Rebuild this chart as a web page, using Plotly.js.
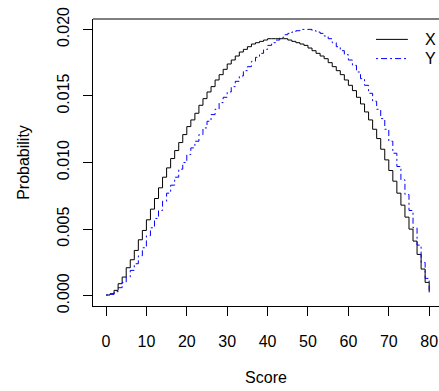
<!DOCTYPE html>
<html>
<head>
<meta charset="utf-8">
<script src="https://cdn.plot.ly/plotly-3.0.1.min.js"></script>
<style>html,body{margin:0;padding:0;background:#fff;}#chart{width:439px;height:391px;}</style>
</head>
<body>
<div id="chart"></div>
<script>
// Scores 0..80
var scores = [];
for (var i = 0; i <= 80; i++) scores.push(i);

// Probability of each score
var probX = [
  0.00005, 0.00015, 0.0004, 0.0009, 0.0014, 0.0021, 0.0027, 0.0034, 0.0042, 0.0049,
  0.0057, 0.0065, 0.0073, 0.0081, 0.0089, 0.0096, 0.0103, 0.0109, 0.0115, 0.0121,
  0.0127, 0.0132, 0.0137, 0.0143, 0.0148, 0.0153, 0.0157, 0.0162, 0.0166, 0.0170,
  0.0174, 0.0177, 0.0180, 0.0183, 0.0185, 0.0187, 0.0189, 0.0190, 0.0191, 0.0192,
  0.0193, 0.0193, 0.0193, 0.0193, 0.0193, 0.0192, 0.0191, 0.0190, 0.0189, 0.0188,
  0.0186, 0.0184, 0.0182, 0.0180, 0.0178, 0.0175, 0.0172, 0.0169, 0.0166, 0.0162,
  0.0158, 0.0154, 0.0149, 0.0144, 0.0138, 0.0132, 0.0125, 0.0118, 0.0110, 0.0102,
  0.0094, 0.0086, 0.0077, 0.0068, 0.0059, 0.0050, 0.0041, 0.0031, 0.0020, 0.0010,
  0.00025
];
var probY = [
  0.00005, 0.0001, 0.0003, 0.0006, 0.0010, 0.0014, 0.0019, 0.0024, 0.0030, 0.0036,
  0.0045, 0.0051, 0.0058, 0.0064, 0.0071, 0.0077, 0.0083, 0.0089, 0.0095, 0.0100,
  0.0106, 0.0111, 0.0116, 0.0121, 0.0126, 0.0131, 0.0136, 0.0140, 0.0145, 0.0149,
  0.0153, 0.0157, 0.0161, 0.0165, 0.0169, 0.0172, 0.0176, 0.0179, 0.0182, 0.0185,
  0.0188, 0.0190, 0.0192, 0.0194, 0.0196, 0.0197, 0.0198, 0.0199, 0.0200, 0.0200,
  0.0200, 0.0199, 0.0198, 0.0197, 0.0195, 0.0193, 0.0190, 0.0187, 0.0184, 0.0181,
  0.0177, 0.0173, 0.0168, 0.0163, 0.0158, 0.0152, 0.0146, 0.0140, 0.0133, 0.0125,
  0.0116, 0.0107, 0.0097, 0.0087, 0.0076, 0.0064, 0.0051, 0.0038, 0.0025, 0.0013,
  0.0004
];

var seriesNames = ['X', 'Y'];
var xTicks = [0, 10, 20, 30, 40, 50, 60, 70, 80];
var yTicks = [0.000, 0.005, 0.010, 0.015, 0.020];
var yTickLabels = ['0.000', '0.005', '0.010', '0.015', '0.020'];

var FONT = 'Liberation Sans, Arial, Helvetica, sans-serif';
var dashY = '2px,3px,6px,3px';

var traces = [
  {x: scores, y: probX, type: 'scatter', mode: 'lines', name: seriesNames[0],
   line: {shape: 'hv', color: '#000000', width: 1}, showlegend: false},
  {x: scores, y: probY, type: 'scatter', mode: 'lines', name: seriesNames[1],
   line: {shape: 'hv', color: '#0000FF', width: 1, dash: dashY}, showlegend: false}
];

// legend drawn in paper coordinates
var legX0 = 0.818, legX1 = 0.910, legTextX = 0.953;
var legY = [0.929, 0.862];

var layout = {
  width: 439, height: 391,
  margin: {l: 93, r: 0, t: 19, b: 85, pad: 0},
  paper_bgcolor: '#ffffff', plot_bgcolor: '#ffffff',
  font: {family: FONT, size: 16, color: '#000000'},
  showlegend: false,
  xaxis: {
    range: [-3.22, 82.43], tickmode: 'array', tickvals: xTicks,
    ticks: 'outside', ticklen: 9, tickcolor: '#000000', tickwidth: 1,
    ticklabelstandoff: 12,
    showline: true, linecolor: '#000000', linewidth: 1,
    showgrid: false, zeroline: false,
    tickfont: {family: FONT, size: 16, color: '#000000'},
    title: {text: 'Score', font: {family: FONT, size: 16, color: '#000000'}, standoff: 22}
  },
  yaxis: {
    range: [-0.000774, 0.02078], tickmode: 'array', tickvals: yTicks, ticktext: yTickLabels,
    ticks: 'outside', ticklen: 9, tickcolor: '#000000', tickwidth: 1,
    tickangle: -90, ticklabelstandoff: 8,
    showline: true, linecolor: '#000000', linewidth: 1,
    showgrid: false, zeroline: false,
    tickfont: {family: FONT, size: 16, color: '#000000'},
    title: {text: 'Probability', font: {family: FONT, size: 16, color: '#000000'}, standoff: 20}
  },
  shapes: [
    {type: 'line', xref: 'paper', yref: 'paper', x0: 0, x1: 1, y0: 1, y1: 1,
     line: {color: '#000000', width: 1}},
    {type: 'line', xref: 'paper', yref: 'paper', x0: legX0, x1: legX1, y0: legY[0], y1: legY[0],
     line: {color: '#000000', width: 1}},
    {type: 'line', xref: 'paper', yref: 'paper', x0: legX0, x1: legX1, y0: legY[1], y1: legY[1],
     line: {color: '#0000FF', width: 1, dash: dashY}}
  ],
  annotations: [
    {xref: 'paper', yref: 'paper', x: legTextX, y: legY[0], text: seriesNames[0], showarrow: false,
     xanchor: 'left', yanchor: 'middle', font: {family: FONT, size: 16, color: '#000000'}},
    {xref: 'paper', yref: 'paper', x: legTextX, y: legY[1], text: seriesNames[1], showarrow: false,
     xanchor: 'left', yanchor: 'middle', font: {family: FONT, size: 16, color: '#000000'}}
  ]
};

Plotly.newPlot('chart', traces, layout, {staticPlot: true, displayModeBar: false});
</script>
</body>
</html>
